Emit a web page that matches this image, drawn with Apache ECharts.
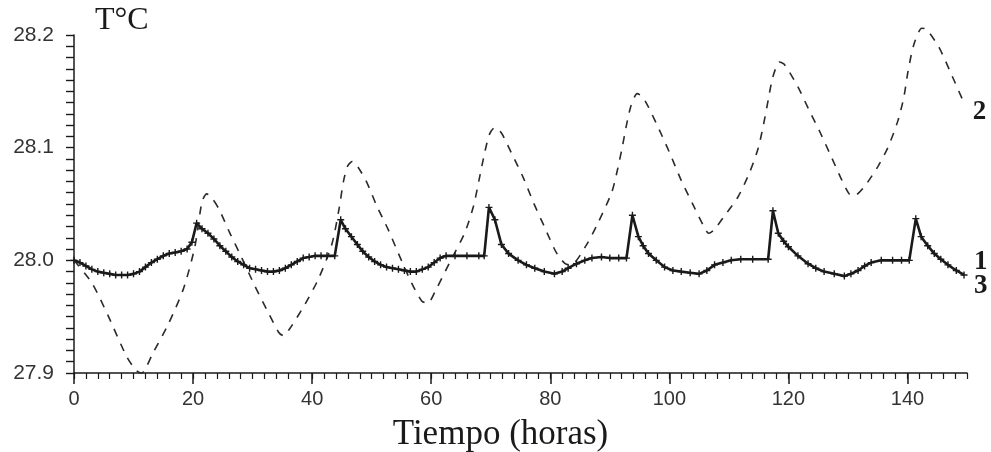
<!DOCTYPE html>
<html>
<head>
<meta charset="utf-8">
<script src="https://cdn.jsdelivr.net/npm/echarts@6/dist/echarts.min.js"></script>
<style>
  html, body { margin: 0; padding: 0; background: #fff; }
  #chart { width: 991px; height: 452px; }
</style>
</head>
<body>
<div id="chart"></div>
<script>
// curvas 1 y 3 (coinciden): [horas, T]
var curve13 = [
    [0, 28.000], [1, 27.998], [2, 27.995], [3, 27.992], [4, 27.990], [5, 27.989], [6, 27.988],
    [7, 27.987], [8, 27.987], [9, 27.987], [10, 27.988], [11, 27.990], [12, 27.994], [13, 27.998],
    [14, 28.001], [15, 28.004], [16, 28.006], [17, 28.007], [18, 28.008], [19, 28.010], [19.8, 28.016],
    [20.6, 28.033], [21.5, 28.028], [22.5, 28.024], [23.5, 28.019], [24.5, 28.013], [25.5, 28.008],
    [26.5, 28.003], [27.5, 27.999], [28.5, 27.996], [29.5, 27.993], [30.5, 27.992], [31.5, 27.991],
    [32.5, 27.990], [33.5, 27.990], [34.5, 27.991], [35.5, 27.993], [36.5, 27.996], [37.5, 27.999],
    [38.5, 28.002], [39.5, 28.003], [40.5, 28.004], [41.5, 28.004], [42.5, 28.004], [43.8, 28.004],
    [44.8, 28.036], [45.6, 28.028], [46.6, 28.021], [47.6, 28.014], [48.5, 28.008], [49.5, 28.003],
    [50.5, 27.999], [51.5, 27.996], [52.5, 27.994], [53.5, 27.993], [54.5, 27.992], [55.5, 27.991],
    [56.5, 27.990], [57.5, 27.990], [58.5, 27.992], [59.5, 27.994], [60.5, 27.998], [61.5, 28.002],
    [62.5, 28.004], [64, 28.004], [66, 28.004], [68, 28.004], [68.9, 28.004], [69.7, 28.047],
    [70.7, 28.036], [71.8, 28.014], [73, 28.006], [74.6, 28.000], [76, 27.996], [77.4, 27.993],
    [79, 27.990], [80.7, 27.988], [82, 27.990], [83, 27.993], [84.4, 27.997], [85.8, 28.000],
    [87, 28.002], [88.6, 28.003], [90, 28.002], [91.5, 28.002], [92.8, 28.002], [93.8, 28.040],
    [94.8, 28.021], [95.6, 28.013], [96.5, 28.006], [97.8, 28.000], [99.2, 27.994], [100.6, 27.991],
    [102, 27.990], [103.5, 27.989], [105, 27.988], [106.3, 27.991], [107.6, 27.996], [109, 27.998],
    [110.4, 28.000], [112, 28.001], [114, 28.001], [116.6, 28.001], [117.4, 28.044], [118.3, 28.024],
    [119.2, 28.017], [120, 28.012], [121.6, 28.004], [123.3, 27.997], [124.6, 27.993], [126, 27.990],
    [127.7, 27.988], [129.4, 27.986], [130.5, 27.988], [131.7, 27.991], [132.8, 27.995], [133.9, 27.998],
    [135.6, 28.000], [137.5, 28.000], [139, 28.000], [140.3, 28.000], [141.4, 28.037], [142.3, 28.021],
    [143.4, 28.013], [144.5, 28.006], [145.6, 28.001], [146.8, 27.996], [148.2, 27.991], [149.5, 27.987]
];

// curva 2 (trazos)
var curve2 = [
    [0, 28.000], [3, 27.980], [5.8, 27.950], [8.9, 27.914], [10.5, 27.902], [11.4, 27.900],
    [12.3, 27.907], [13.1, 27.916], [15.9, 27.944], [18.4, 27.975], [20.3, 28.012], [21.5, 28.052],
    [22.3, 28.059], [23.2, 28.055], [24.3, 28.046], [26.2, 28.024], [28.2, 28.002], [30.4, 27.977],
    [32.7, 27.953], [34.4, 27.936], [35.2, 27.933], [36.2, 27.939], [38.8, 27.961], [41.1, 27.984],
    [43.3, 28.014], [44.5, 28.045], [45.3, 28.071], [46, 28.084], [46.8, 28.088], [47.8, 28.082],
    [49.2, 28.069], [50.8, 28.049], [52.8, 28.027], [54.5, 28.006], [56.7, 27.980], [58.4, 27.964],
    [59.4, 27.962], [60.9, 27.975], [63.1, 27.998], [65.6, 28.024], [67.1, 28.048], [68.1, 28.073],
    [69, 28.096], [69.8, 28.112], [70.7, 28.118], [71.8, 28.113], [73.5, 28.095], [75.5, 28.073],
    [77.2, 28.051], [79, 28.030], [81, 28.007], [82.5, 27.997], [83.5, 27.996], [86, 28.013],
    [88, 28.033], [90.3, 28.060], [91.1, 28.076], [92, 28.098], [92.8, 28.120], [93.6, 28.138],
    [94.6, 28.148], [95.5, 28.145], [96.5, 28.136], [98.3, 28.116], [100, 28.096], [102, 28.071],
    [104.2, 28.047], [105.9, 28.029], [106.6, 28.024], [107.5, 28.027], [109.2, 28.039], [111.5, 28.056],
    [113.4, 28.077], [114.9, 28.099], [115.8, 28.120], [116.6, 28.142], [117.4, 28.163], [118.5, 28.176],
    [119.3, 28.174], [121.6, 28.154], [123.5, 28.133], [125.2, 28.115], [127.2, 28.092], [128.9, 28.072],
    [130.2, 28.059], [131, 28.057], [132.7, 28.065], [135, 28.083], [136.7, 28.100], [138.4, 28.124],
    [139.4, 28.145], [140.1, 28.168], [141.1, 28.192], [142.4, 28.206], [143.2, 28.205], [145.3, 28.189],
    [147.3, 28.166], [149.3, 28.142]
];

var xTicks = [0, 20, 40, 60, 80, 100, 120, 140];
var yTicks = [27.9, 28.0, 28.1, 28.2];
var seriesNames = ['1', '2', '3'];

// marcas menores: cada 2 horas y cada 0.01 °C
var xMinor = [];
for (var i = 0; i <= 150; i += 2) xMinor.push(i);
var yMinor = [];
for (var j = 0; j <= 30; j++) yMinor.push(Math.round((27.9 + j * 0.01) * 100) / 100);

var ink = '#1a1a1a';
var chart = echarts.init(document.getElementById('chart'), null, { renderer: 'canvas' });

var option = {
    backgroundColor: '#fff',
    animation: false,
    grid: { left: 74, right: 24, top: 35, bottom: 79, outerBoundsMode: 'none', containLabel: false },
    graphic: [{
        type: 'text', left: 95, top: 5,
        style: { text: 'T°C', fontFamily: 'Liberation Serif', fontSize: 32, fill: ink }
    }],
    xAxis: [{
        type: 'value', min: 0, max: 150,
        axisLine: { show: true, lineStyle: { color: ink, width: 1.5 } },
        axisTick: { show: true, length: 6, customValues: xMinor, lineStyle: { color: ink, width: 1.2 } },
        axisLabel: { show: false },
        splitLine: { show: false },
        name: 'Tiempo (horas)', nameLocation: 'middle', nameGap: 44,
        nameTextStyle: { fontFamily: 'Liberation Serif', fontSize: 35, color: ink, padding: [0, 40, 0, 0] }
    }, {
        type: 'value', min: 0, max: 150, position: 'bottom',
        axisLine: { show: false },
        axisTick: { show: true, length: 11, customValues: xTicks, lineStyle: { color: ink, width: 1.5 } },
        axisLabel: {
            show: true, customValues: xTicks, margin: 16,
            fontFamily: 'Liberation Sans', fontSize: 20, color: '#333'
        },
        splitLine: { show: false }
    }],
    yAxis: {
        type: 'value', min: yTicks[0], max: yTicks[yTicks.length - 1],
        axisLine: { show: true, lineStyle: { color: ink, width: 1.5 } },
        axisTick: { show: true, length: 8, customValues: yMinor, lineStyle: { color: ink, width: 1.4 } },
        axisLabel: {
            margin: 20, customValues: yTicks, fontFamily: 'Liberation Sans', fontSize: 21, color: '#333',
            formatter: function (v) { return v.toFixed(1); }
        },
        splitLine: { show: false }
    },
    series: [{
        name: seriesNames[0],
        type: 'line',
        data: curve13,
        xAxisIndex: 0,
        showSymbol: true,
        symbol: 'path://M4,0h2v4h4v2h-4v4h-2v-4h-4v-2h4z',
        symbolSize: 7,
        itemStyle: { color: ink },
        lineStyle: { color: ink, width: 2.6 },
        clip: false,
        endLabel: {
            show: true, formatter: seriesNames[0], offset: [2, -13],
            fontFamily: 'Liberation Serif', fontWeight: 'bold', fontSize: 27, color: ink
        }
    }, {
        name: seriesNames[1],
        type: 'line',
        data: curve2,
        xAxisIndex: 0,
        showSymbol: false,
        smooth: 0.25,
        lineStyle: { color: '#2a2a2a', width: 1.6, type: [8, 8] },
        clip: false,
        endLabel: {
            show: true, formatter: seriesNames[1], offset: [2, 12],
            fontFamily: 'Liberation Serif', fontWeight: 'bold', fontSize: 27, color: ink
        }
    }, {
        name: seriesNames[2],
        type: 'line',
        data: curve13,
        xAxisIndex: 0,
        showSymbol: false,
        lineStyle: { color: ink, width: 1 },
        clip: false,
        endLabel: {
            show: true, formatter: seriesNames[2], offset: [2, 11],
            fontFamily: 'Liberation Serif', fontWeight: 'bold', fontSize: 27, color: ink
        }
    }]
};

chart.setOption(option);
</script>
</body>
</html>
